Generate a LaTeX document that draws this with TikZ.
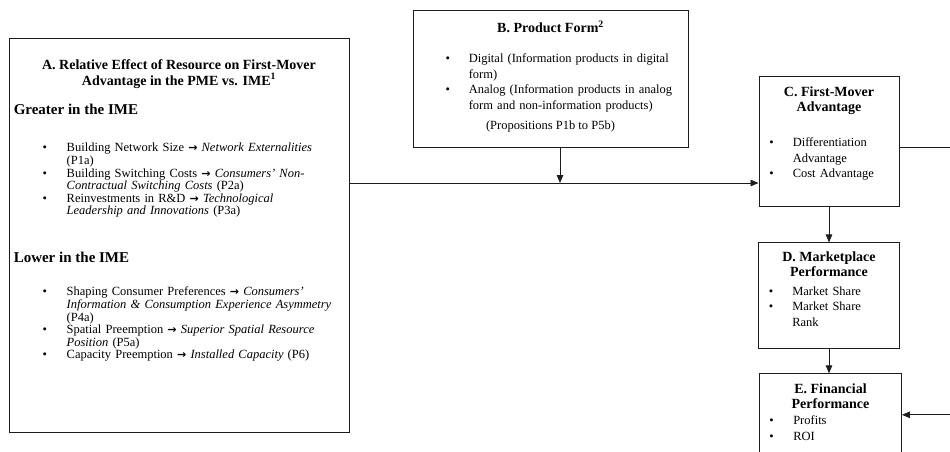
\documentclass[tikz,border=0pt]{standalone}
\usepackage{fontspec}
\setmainfont{Liberation Serif}
\newfontfamily\arrowfont{DejaVu Sans}
\usepackage{enumitem}
\usepackage{tikz}
\usetikzlibrary{arrows.meta,positioning}
\definecolor{scanink}{HTML}{1C1C1C}
\newcommand\leadsarrow{{\arrowfont\bfseries\fontsize{11}{11}\selectfont →}}
\newenvironment{dotlist}[2]{%
  \begin{itemize}[nosep,leftmargin=#1,labelsep=#2,label=\textbullet]}{\end{itemize}}
\tikzset{
  panel/.style={
    draw=scanink,
    line width=0.9pt,
    inner sep=0pt
  },
  headtext/.style={
    inner sep=0pt,
    align=center,
    font=\fontsize{14}{15.5}\selectfont\bfseries
  },
  sidehead/.style={
    inner sep=0pt,
    font=\fontsize{15}{17}\selectfont\bfseries
  },
  bodytext/.style={
    inner sep=0pt,
    align=left,
    font=\fontsize{12.5}{15.5}\selectfont
  },
  tightbody/.style={
    bodytext,
    font=\fontsize{12.5}{12.6}\selectfont
  },
  link/.style={
    -{Triangle[length=8pt,width=6.5pt]},
    line width=0.8pt,
    draw=scanink
  }
}

\begin{document}
\begin{tikzpicture}[x=1pt,y=-1pt]
  \useasboundingbox (0,0) rectangle (950,452);
  \clip (0,0) rectangle (950,452);

  % boxes
  \node[panel, minimum width=340pt, minimum height=394pt] (boxA) at (179,235) {};
  \node[panel, minimum width=275pt, minimum height=137pt] (boxB) at (550.5,78.5) {};
  \node[panel, minimum width=140pt, minimum height=130pt] (boxC) at (829,141) {};
  \node[panel, minimum width=141pt, minimum height=106pt, below=36pt of boxC] (boxD) {};
  \node[panel, minimum width=142pt, minimum height=98pt, below=24pt of boxD, xshift=1.5pt] (boxE) {};

  % A
  \node[headtext, below=22pt of boxA.north] (titleA) {
    A. Relative Effect of Resource on First-Mover\\
    Advantage in the PME vs. IME\textsuperscript{1}
  };
  \node[sidehead, below right=66.5pt and 5pt of boxA.north west] (greaterA) {Greater in the IME};
  \node[tightbody, text width=335pt, below right=101.5pt and 0pt of boxA.north west] (listA1) {
    \begin{dotlist}{58pt}{19.8pt}
      \item Building Network Size \leadsarrow{} \textit{Network Externalities}\newline (P1a)
      \item Building Switching Costs \leadsarrow{} \textit{Consumers' Non-}\newline
            \textit{Contractual Switching Costs} (P2a)
      \item Reinvestments in R\&D \leadsarrow{} \textit{Technological}\newline
            \textit{Leadership and Innovations} (P3a)
    \end{dotlist}
  };
  \node[sidehead, below right=214.5pt and 5pt of boxA.north west] (lowerA) {Lower in the IME};
  \node[tightbody, text width=335pt, below right=245.5pt and 0pt of boxA.north west] (listA2) {
    \begin{dotlist}{58pt}{19.8pt}
      \item Shaping Consumer Preferences \leadsarrow{} \textit{Consumers'}\newline
            \textit{Information \& Consumption Experience Asymmetry}\newline (P4a)
      \item Spatial Preemption \leadsarrow{} \textit{Superior Spatial Resource}\newline
            \textit{Position} (P5a)
      \item Capacity Preemption \leadsarrow{} \textit{Installed Capacity} (P6)
    \end{dotlist}
  };

  % B
  \node[headtext, below=11pt of boxB.north] (titleB) {B. Product Form\textsuperscript{2}};
  \node[bodytext, text width=272pt, below right=37.5pt and 0pt of boxB.north west] (listB) {
    \begin{dotlist}{56pt}{18.8pt}
      \item Digital (Information products in digital\newline form)
      \item Analog (Information products in analog\newline form and non-information products)
    \end{dotlist}
  };
  \node[bodytext, below=111.5pt of boxB.north] (propsB) {(Propositions P1b to P5b)};

  % C
  \node[headtext, below=11pt of boxC.north] (titleC) {C. First-Mover\\Advantage};
  \node[bodytext, text width=136pt, below right=55.5pt and 0pt of boxC.north west] (listC) {
    \begin{dotlist}{34pt}{19pt}
      \item Differentiation\newline Advantage
      \item Cost Advantage
    \end{dotlist}
  };

  % D
  \node[headtext, below=9pt of boxD.north] (titleD) {D. Marketplace\\Performance};
  \node[bodytext, text width=136pt, below right=37pt and 0pt of boxD.north west] (listD) {
    \begin{dotlist}{34pt}{19pt}
      \item Market Share
      \item Market Share\newline Rank
    \end{dotlist}
  };

  % E
  \node[headtext, below=10pt of boxE.north] (titleE) {E. Financial\\Performance};
  \node[bodytext, text width=136pt, below right=35.5pt and 0pt of boxE.north west] (listE) {
    \begin{dotlist}{34pt}{19.5pt}
      \item Profits
      \item ROI
    \end{dotlist}
  };

  % connectors
  \coordinate (meet) at (560,183);
  \coordinate (rim) at (957,147);
  \draw[link] (boxA.east |- meet) -- (boxC.west |- meet);
  \draw[link] (boxB.south -| meet) -- (meet);
  \draw[link] (boxC.south) -- (boxD.north);
  \draw[link] (boxD.south) -- (boxD.south |- boxE.north);
  \draw[link] (boxC.east |- rim) -- (rim) |- ([yshift=8pt]boxE.east);
\end{tikzpicture}
\end{document}
